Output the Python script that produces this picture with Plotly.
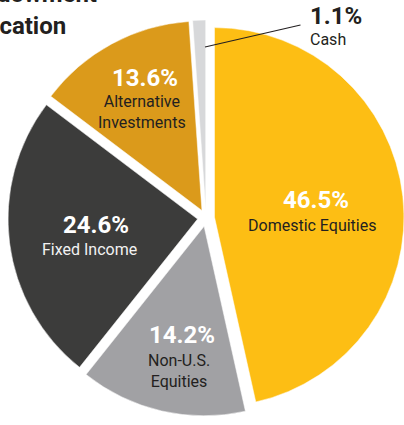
import plotly.graph_objects as go

# ---- data ----
categories = ["Domestic Equities", "Non-U.S.<br>Equities", "Fixed Income",
              "Alternative<br>Investments", "Cash"]
values = [46.5, 14.2, 24.6, 13.6, 1.1]
colors = ["#FDBE14", "#A1A1A4", "#3C3C3B", "#DB9A1B", "#D7D8DA"]
pct_colors = ["#FFFFFF", "#FFFFFF", "#FFFFFF", "#FFFFFF", "#231F20"]
name_colors = ["#231F20", "#231F20", "#F2F2F2", "#231F20", "#231F20"]
title_lines = ["Endowment", "Allocation"]

W, H = 404, 425
FONT = "Roboto"
DARK = "#231F20"


def px(x):
    return x / W


def py(y):
    return 1 - y / H


fig = go.Figure(go.Pie(
    labels=categories,
    values=values,
    marker=dict(colors=colors, line=dict(color="white", width=0.5)),
    sort=False,
    direction="clockwise",
    rotation=0,
    pull=[0.045] * len(values),
    textinfo="none",
    hoverinfo="none",
    showlegend=False,
    domain=dict(x=[8 / W, 1], y=[py(416), py(20)]),
))

# label layout (pixel positions of percent line, name line(s))
pct_pos = [(316, 200), (182, 335), (95.5, 225), (145, 78)]
name_pos = [(311.5, 225), (179, 371), (89, 249), (141.5, 112)]

annotations = []
for i, (cat, v) in enumerate(zip(categories[:4], values[:4])):
    x0, y0 = pct_pos[i]
    x1, y1 = name_pos[i]
    annotations.append(dict(
        x=px(x0), y=py(y0), xref="paper", yref="paper",
        text=f"<b>{v}%</b>", showarrow=False,
        xanchor="center", yanchor="middle",
        font=dict(family=FONT, size=24, color=pct_colors[i]),
    ))
    annotations.append(dict(
        x=px(x1), y=py(y1), xref="paper", yref="paper",
        text=cat, showarrow=False,
        xanchor="center", yanchor="middle",
        font=dict(family=FONT, size=16, color=name_colors[i]),
    ))

# outside label for the small slice
annotations.append(dict(
    x=px(308), y=py(26), xref="paper", yref="paper",
    text=f"<span style='font-size:24px'><b>{values[4]}%</b></span><br>{categories[4]}",
    showarrow=False, xanchor="left", yanchor="middle", align="left",
    font=dict(family=FONT, size=16, color=name_colors[4]),
))

# title lines (partially cropped on the left)
title_pos = [(99, -6), (68, 26)]
for t, (tx, ty) in zip(title_lines, title_pos):
    annotations.append(dict(
        x=px(tx), y=py(ty), xref="paper", yref="paper",
        text=f"<b>{t}</b>", showarrow=False,
        xanchor="right", yanchor="middle",
        font=dict(family=FONT, size=24, color=DARK),
    ))

fig.update_layout(
    width=W, height=H,
    margin=dict(l=0, r=0, t=0, b=0),
    paper_bgcolor="white", plot_bgcolor="white",
    annotations=annotations,
    shapes=[dict(type="line", xref="paper", yref="paper",
                 x0=px(205), y0=py(47), x1=px(300.5), y1=py(25),
                 line=dict(color=DARK, width=1.2))],
)

fig.write_html(
    "out.html",
    config={"displayModeBar": False},
    post_script="document.body.style.margin='0';document.body.style.padding='0';",
)
